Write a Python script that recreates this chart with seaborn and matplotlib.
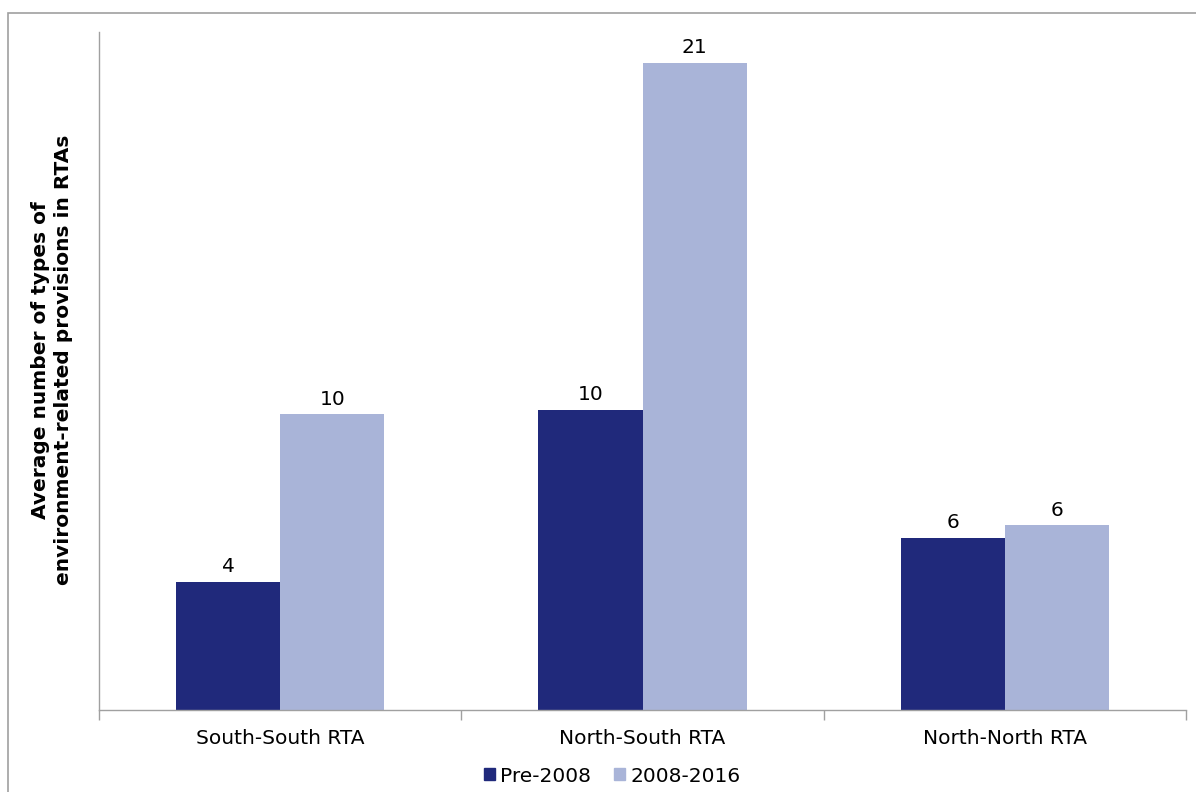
'''grouped bar chart of environment-related provisions in RTAs'''
import pandas as pd
import seaborn as sns
import matplotlib.pyplot as plt
from matplotlib.patches import Rectangle

#region data
CATEGORIES = ['South-South RTA', 'North-South RTA', 'North-North RTA']
PERIODS = ['Pre-2008', '2008-2016']
PRE_2008 = [4.16, 9.74, 5.58]
POST_2008 = [9.6, 21.0, 6.0]
COLOURS = ['#20297B', '#A9B4D8']
#endregion

data = pd.DataFrame({
    'category': CATEGORIES * 2,
    'period': [PERIODS[0]] * 3 + [PERIODS[1]] * 3,
    'value': PRE_2008 + POST_2008,
})

sns.set_theme(style='white')
plt.rcParams['font.family'] = ['DejaVu Sans']
plt.rcParams['text.color'] = 'black'

FS = 14.5

fig = plt.figure(figsize=(11.96, 7.92), dpi=100)
ax = fig.add_axes([99 / 1196, 1 - 710 / 792, (1186 - 99) / 1196, (710 - 32) / 792])

sns.barplot(data=data, x='category', y='value', hue='period', order=CATEGORIES,
            hue_order=PERIODS, palette=COLOURS, width=0.575, saturation=1,
            ax=ax, legend=False, linewidth=0)

for cont in ax.containers:
    ax.bar_label(cont, fmt='%.0f', padding=4, fontsize=FS, color='black')

ax.set_ylim(0, 22)
ax.set_xlim(-0.5, 2.5)
ax.set_yticks([])
ax.set_xlabel('')
ax.set_ylabel('')

# ticks on category boundaries, labels at centres
ax.set_xticks([-0.5, 0.5, 1.5, 2.5])
ax.set_xticklabels([])
ax.set_xticks([0, 1, 2], minor=True)
ax.set_xticklabels(CATEGORIES, minor=True, fontsize=FS, color='black')
ax.tick_params(axis='x', which='major', direction='out', length=7, width=1,
               color='#A0A0A0', bottom=True)
ax.tick_params(axis='x', which='minor', length=0, pad=14, bottom=True)

for side in ['top', 'right']:
    ax.spines[side].set_visible(False)
for side in ['left', 'bottom']:
    ax.spines[side].set_color('#A0A0A0')
    ax.spines[side].set_linewidth(1)

fig.text(52 / 1196, 1 - 360 / 792,
         'Average number of types of\nenvironment-related provisions in RTAs',
         rotation=90, ha='center', va='center', fontsize=FS, color='black',
         fontweight='bold', multialignment='center', linespacing=1.3)

handles = [Rectangle((0, 0), 1, 1, color=c) for c in COLOURS]
fig.legend(handles, PERIODS, loc='center', bbox_to_anchor=(612 / 1196, 1 - 776 / 792),
           ncol=2, frameon=False, fontsize=FS, handlelength=0.55, handleheight=0.55,
           handletextpad=0.25, columnspacing=1.15, borderpad=0)

# outer chart border
fig.patches.append(Rectangle((8 / 1196, -0.05), 1.1, 1 - 13 / 792 + 0.05,
                             transform=fig.transFigure, fill=False,
                             edgecolor='#A0A0A0', linewidth=1.2))

fig.savefig('out.png', dpi=100)
